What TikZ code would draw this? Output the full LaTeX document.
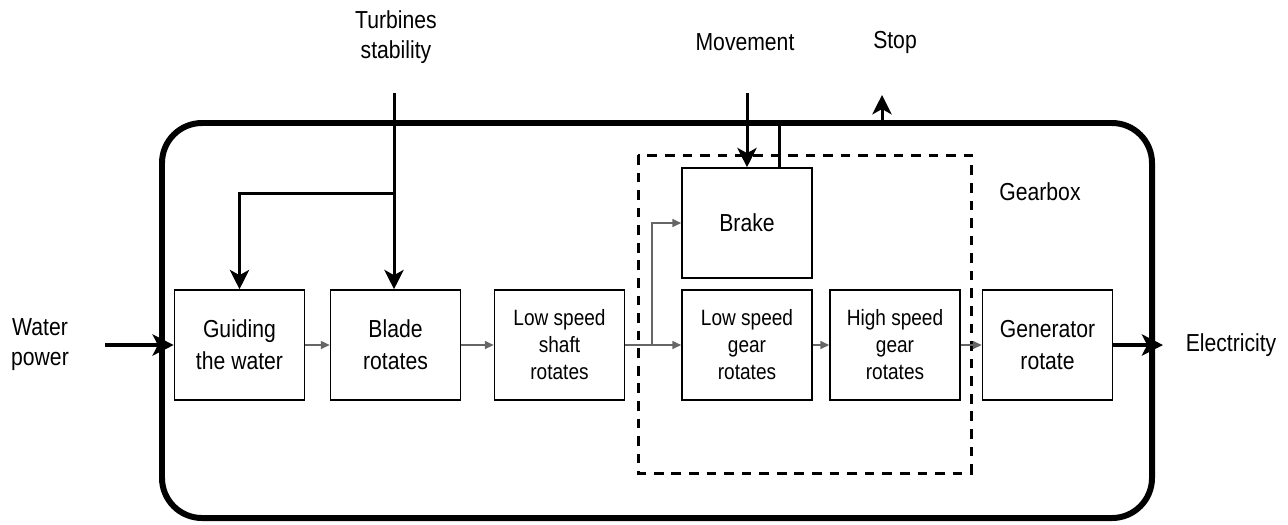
\documentclass[tikz,border=0pt]{standalone}
\usepackage{fontspec}
\setmainfont[FakeStretch=0.86]{Liberation Sans}
\usetikzlibrary{arrows.meta}
\begin{document}
\begin{tikzpicture}[x=0.2mm,y=-0.2mm,
	block/.style={draw, line width=0.9pt, minimum width=26mm, minimum height=22mm, align=center, font=\fontsize{14}{18}\selectfont},
	smallblock/.style={block, font=\fontsize{12.6}{15.4}\selectfont},
	label/.style={align=center, font=\fontsize{14}{17}\selectfont},
	flow/.style={draw=black!60, line width=0.8pt, -{Triangle[length=5pt,width=4.5pt]}},
	ctrl/.style={line width=1.7pt, -{Stealth[length=11pt,width=11pt,inset=3pt]}},
	power/.style={line width=2.8pt, -{Stealth[length=12pt,width=12pt,inset=3pt]}}]
	\useasboundingbox (0,0) rectangle (1288,524);
	% outer system boundary and gearbox
	\draw[line width=3.4pt, rounded corners=8mm] (162,123) rectangle (1152,518);
	\draw[line width=1.7pt, dash pattern=on 5.5pt off 4.5pt] (638,155) rectangle (971,473);
	% blocks
	\node[block] (guide) at (239.5,345) {Guiding\\the water};
	\node[block] (blade) at (395.5,345) {Blade\\rotates};
	\node[smallblock] (shaft) at (559.5,345) {Low speed\\shaft\\rotates};
	\node[smallblock] (lgear) at (747,345) {Low speed\\gear\\rotates};
	\node[smallblock] (hgear) at (895,345) {High speed\\gear\\rotates};
	\node[block] (gen) at (1047.5,345) {Generator\\rotate};
	\node[block] (brake) at (747,223) {Brake};
	% labels
	\node[label] (tstab) at (396,37) {Turbines\\stability};
	\node[label] (move) at (745,42) {Movement};
	\node[label] (stop) at (895,42) {Stop};
	\node[label] (gbox) at (1040,192) {Gearbox};
	\node[label] (water) at (40,345) {Water\\power};
	\node[label] (elec) at (1231,345) {Electricity};
	\coordinate (tin) at (394,93);
	\coordinate (min) at (747,93);
	\coordinate (sout) at (882,95);
	\coordinate (win) at (105,345);
	\coordinate (eout) at (1163,345);
	\coordinate (split) at (652,345);
	% controls
	\draw[ctrl] (tin) -- (tin |- blade.north);
	\draw[ctrl] (394,193) -| (guide.north);
	\draw[ctrl] (min) -- (brake.north);
	\draw[ctrl] (779,168) |- (882,123) -- (sout);
	% power in and out
	\draw[power] (win) -- (guide.west);
	\draw[power] (gen.east) -- (eout);
	% flow between blocks
	\draw[flow] (guide) -- (blade);
	\draw[flow] (blade) -- (shaft);
	\draw[flow] (shaft) -- (lgear);
	\draw[flow] (lgear) -- (hgear);
	\draw[flow] (hgear) -- (gen);
	\draw[flow] (split) |- (brake.west);
\end{tikzpicture}
\end{document}
